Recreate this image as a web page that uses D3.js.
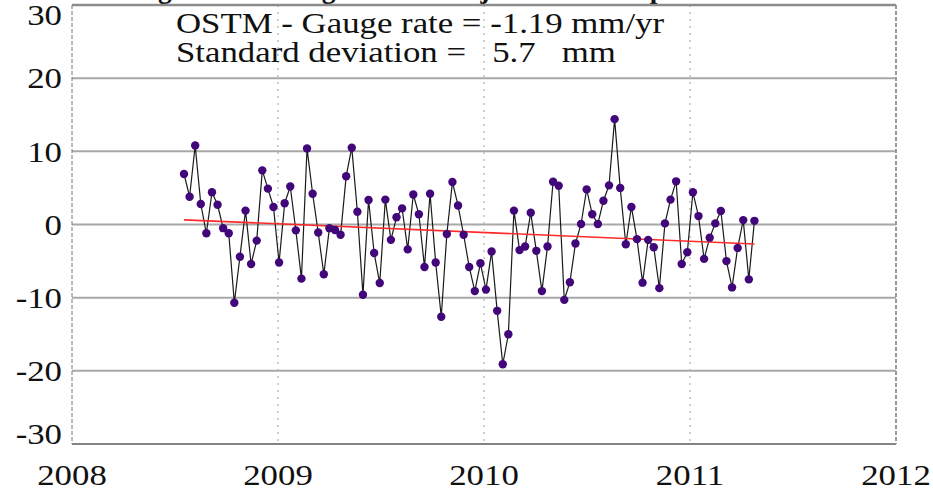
<!DOCTYPE html>
<html>
<head>
<meta charset="utf-8">
<script src="https://cdn.jsdelivr.net/npm/d3@7"></script>
<style>
  html, body { margin: 0; padding: 0; background: #fff; }
  svg { display: block; }
</style>
</head>
<body>
<svg id="chart" width="933" height="492"></svg>
<script>
// OSTM (Jason-2) repeat cycles compared with the tide gauge
const cycles = [
  1, 2, 3, 4, 5, 6, 7, 8, 9, 10, 11, 12, 13, 14, 15, 16, 17, 18, 19, 20,
  21, 22, 23, 24, 25, 26, 27, 28, 29, 30, 31, 32, 33, 34, 35, 36, 37, 38, 39, 40,
  41, 42, 43, 44, 45, 46, 47, 48, 49, 50, 51, 52, 53, 54, 55, 56, 57, 58, 59, 60,
  61, 62, 63, 64, 65, 66, 67, 68, 69, 70, 71, 72, 73, 74, 75, 76, 77, 78, 79, 80,
  81, 82, 83, 84, 85, 86, 87, 88, 89, 90, 91, 92, 93, 94, 95, 96, 97, 98, 99, 100,
  101, 102, 103
];
// OSTM minus gauge sea level difference per cycle (mm)
const diffMm = [
  6.9, 3.8, 10.8, 2.8, -1.2, 4.4, 2.7, -0.5, -1.2, -10.7,
  -4.4, 1.9, -5.4, -2.2, 7.4, 4.9, 2.4, -5.2, 2.9, 5.2,
  -0.8, -7.4, 10.4, 4.2, -1.1, -6.8, -0.5, -0.75, -1.4, 6.6,
  10.5, 1.75, -9.6, 3.35, -3.9, -8.0, 3.4, -2.1, 1.0, 2.2,
  -3.4, 4.1, 1.4, -5.8, 4.2, -5.2, -12.6, -1.3, 5.8, 2.6,
  -1.4, -5.8, -9.1, -5.3, -8.9, -3.7, -11.8, -19.1, -15.0, 1.9,
  -3.5, -3.0, 1.6, -3.6, -9.1, -3.0, 5.85, 5.3, -10.3, -7.9,
  -2.6, 0.07, 4.8, 1.4, 0.07, 3.25, 5.35, 14.4, 5.0, -2.7,
  2.4, -2.0, -7.95, -2.1, -3.1, -8.7, 0.15, 3.4, 5.9, -5.4,
  -3.8, 4.4, 1.15, -4.7, -1.8, 0.15, 1.85, -5.0, -8.6, -3.2,
  0.6, -7.5, 0.5
];
const yTicks = [-30, -20, -10, 0, 10, 20, 30];
const xTicks = [2008, 2009, 2010, 2011, 2012];
const gaugeRate = -1.19;   // mm/yr
const stdDev = 5.7;        // mm
const title = "Tarawa Gauge versus Rangiroa and Majuro Atoll comparison";

(function drawChart() {
  const FONT = "'Liberation Serif', 'Times New Roman', Times, serif";

  // cycle timing
  const firstCycleYear = 2008.5437;
  const cycleDays = 9.9156;
  const cycleYear = c => firstCycleYear + (c - 1) * cycleDays / 365.25;

  const data = cycles.map((c, i) => ({ t: cycleYear(c), v: diffMm[i] }));

  const svg = d3.select("#chart");
  const m = { left: 72, right: 896, top: 5, bottom: 444 };
  const STRETCH = 1.16;

  const x = d3.scaleLinear().domain([2008, 2012]).range([m.left, m.right]);
  const y = d3.scaleLinear().domain([-30, 30]).range([m.bottom, m.top]);

  // title, sitting above the plot frame
  const titleText = svg.append("text")
    .attr("font-family", FONT)
    .attr("font-weight", "bold")
    .attr("font-size", 30)
    .attr("fill", "#111")
    .text(title);
  {
    const node = titleText.node();
    const gIdx = title.indexOf("Gauge") + 3;
    const pIdx = title.lastIndexOf("p");
    const gx = node.getStartPositionOfChar(gIdx).x;
    const px = node.getStartPositionOfChar(pIdx).x;
    const k = (650 - 158) / (px - gx);
    titleText.attr("transform", `translate(${158 - gx * k},-2) scale(${k},1)`);
  }

  // horizontal grid lines
  svg.append("g").selectAll("line")
    .data(yTicks.filter(d => d > -30 && d < 30))
    .join("line")
    .attr("x1", m.left).attr("x2", m.right)
    .attr("y1", d => y(d)).attr("y2", d => y(d))
    .attr("stroke", "#a8a8a8").attr("stroke-width", 2);

  // vertical dotted grid lines at years
  svg.append("g").selectAll("line")
    .data(xTicks.filter(d => d > 2008 && d < 2012))
    .join("line")
    .attr("x1", d => x(d)).attr("x2", d => x(d))
    .attr("y1", m.top).attr("y2", m.bottom)
    .attr("stroke", "#b0b0b0").attr("stroke-width", 1.2)
    .attr("stroke-dasharray", "2,5");

  // frame
  svg.append("line").attr("x1", m.left).attr("x2", m.right).attr("y1", m.top).attr("y2", m.top)
    .attr("stroke", "#8c8c8c").attr("stroke-width", 2.5);
  svg.append("line").attr("x1", m.left).attr("x2", m.right).attr("y1", m.bottom).attr("y2", m.bottom)
    .attr("stroke", "#5a5a5a").attr("stroke-width", 1.6);
  svg.append("line").attr("x1", m.left).attr("x2", m.left).attr("y1", m.top).attr("y2", m.bottom)
    .attr("stroke", "#777").attr("stroke-width", 1).attr("stroke-dasharray", "4,2");
  svg.append("line").attr("x1", m.right).attr("x2", m.right).attr("y1", m.top).attr("y2", m.bottom)
    .attr("stroke", "#999").attr("stroke-width", 2).attr("stroke-dasharray", "4,2");

  // y tick labels
  svg.append("g").selectAll("text")
    .data(yTicks)
    .join("text")
    .attr("transform", d => {
      let yy = y(d);
      if (d === 30) yy += 10;
      if (d === -30) yy -= 10;
      return `translate(62,${yy}) scale(${STRETCH},1)`;
    })
    .attr("text-anchor", "end")
    .attr("dy", "0.34em")
    .attr("font-family", FONT)
    .attr("font-size", 30)
    .attr("fill", "#111")
    .text(d => d);

  // x tick labels
  svg.append("g").selectAll("text")
    .data(xTicks)
    .join("text")
    .attr("transform", d => `translate(${x(d)},485) scale(${STRETCH},1)`)
    .attr("text-anchor", "middle")
    .attr("font-family", FONT)
    .attr("font-size", 30)
    .attr("fill", "#111")
    .text(d => d);

  // trend line through the data centroid with the stated rate
  const tMean = d3.mean(data, d => d.t);
  const vMean = d3.mean(data, d => d.v);
  const t0 = data[0].t, t1 = data[data.length - 1].t;
  const trend = [t0, t1].map(t => ({ t, v: vMean + gaugeRate * (t - tMean) }));

  // series line
  svg.append("path")
    .datum(data)
    .attr("fill", "none")
    .attr("stroke", "#1a1a1a")
    .attr("stroke-width", 1.2)
    .attr("d", d3.line().x(d => x(d.t)).y(d => y(d.v)));

  svg.append("path")
    .datum(trend)
    .attr("fill", "none")
    .attr("stroke", "#ff2a2a")
    .attr("stroke-width", 1.6)
    .attr("d", d3.line().x(d => x(d.t)).y(d => y(d.v)));

  // markers
  svg.append("g").selectAll("circle")
    .data(data)
    .join("circle")
    .attr("cx", d => x(d.t))
    .attr("cy", d => y(d.v))
    .attr("r", 4.2)
    .attr("fill", "#40067a");

  // annotation
  const note = svg.append("g")
    .attr("font-family", FONT)
    .attr("font-size", 30)
    .attr("fill", "#111");
  note.append("text")
    .attr("transform", `translate(176,33) scale(${STRETCH},1)`)
    .text(`OSTM - Gauge rate = ${gaugeRate.toFixed(2)} mm/yr`);
  note.append("text")
    .attr("transform", `translate(176,62) scale(${STRETCH},1)`)
    .style("white-space", "pre")
    .text(`Standard deviation =   ${stdDev.toFixed(1)}   mm`);
})();
</script>
</body>
</html>
